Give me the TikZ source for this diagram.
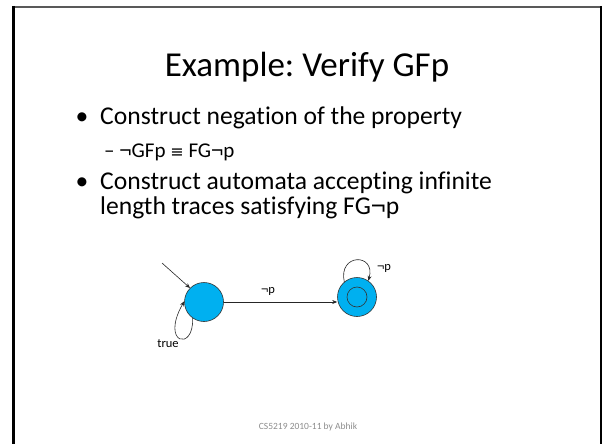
\documentclass[tikz,border=0pt]{standalone}
\usepackage{fontspec}
\setmainfont{Carlito}[Ligatures={NoCommon}]
\newfontfamily\symfont{DejaVu Sans}
\newfontfamily\negfont{Liberation Sans}
\usetikzlibrary{arrows.meta}
\definecolor{stateblue}{HTML}{00B0F0}
\definecolor{footgray}{HTML}{8C8C8C}
\newcommand{\negsym}{{\negfont ¬}}
\frenchspacing
\tikzset{
  txt/.style={anchor=base west, inner sep=0pt, font=\fontsize{25.6}{30}\selectfont},
  subtxt/.style={anchor=base west, inner sep=0pt, font=\fontsize{21}{24}\selectfont},
  lbl/.style={inner sep=0pt, font=\fontsize{12.5}{14}\selectfont},
  state/.style={circle, draw=black!80, line width=0.6pt, fill=stateblue, minimum size=39pt, inner sep=0pt},
  edge/.style={draw=black!85, line width=0.6pt, -{Stealth[length=5pt,width=4pt]}}
}
\begin{document}
\begin{tikzpicture}[x=1pt, y=-1pt]
  \useasboundingbox (0,0) rectangle (602,444);
  % slide frame
  \draw[line width=2pt, gray!70!black] (13,7) -- (600,7);
  \draw[line width=3pt, black] (13.5,6) -- (13.5,444);
  \draw[line width=2pt, black] (601,6) -- (601,444);

  % title
  \node[anchor=base, inner sep=0pt, font=\fontsize{35}{40}\selectfont] (title) at (307,77) {Example: Verify GFp};

  % bullet list
  \node[txt, anchor=base] (b1) at (82,124) {\textbullet};
  \node[txt] (t1) at (100,124) {Construct negation of the property};
  \node[subtxt] (t2) at (104,157) {– \negsym GFp {\symfont\fontsize{16}{20}\selectfont ≡} FG\negsym p};
  \node[txt, anchor=base] (b2) at (82,189) {\textbullet};
  \node[txt] (t3) at (100,189) {Construct automata accepting infinite};
  \node[txt] (t4) at (100,214) {length traces satisfying FG\negsym p};

  % automaton
  \node[state] (s0) at (204,302) {};
  \node[state] (s1) at (357,297) {};
  \node[circle, draw=black!80, line width=0.6pt, minimum size=20pt, inner sep=0pt] (s1in) at (357,297) {};
  \coordinate (init) at (162,263);
  \draw[edge] (init) -- (s0.135);
  \draw[edge] (s0.east) -- (s0.east -| s1.west) coordinate (e1);
  \node[lbl] (l1) at (268,291) {\negsym p};
  \draw[edge] (s0.-125) .. controls (194,352) and (160,344) .. (s0.178);
  \node[lbl] (l0) at (168,344) {true};
  \draw[edge] (s1.130) .. controls (338,253) and (376,253) .. (s1.55);
  \node[lbl] (l2) at (384,268) {\negsym p};

  % footer
  \node[inner sep=0pt, text=footgray, font=\fontsize{9.5}{11}\selectfont] (foot) at (308,427) {CS5219 2010-11 by Abhik};
\end{tikzpicture}
\end{document}
